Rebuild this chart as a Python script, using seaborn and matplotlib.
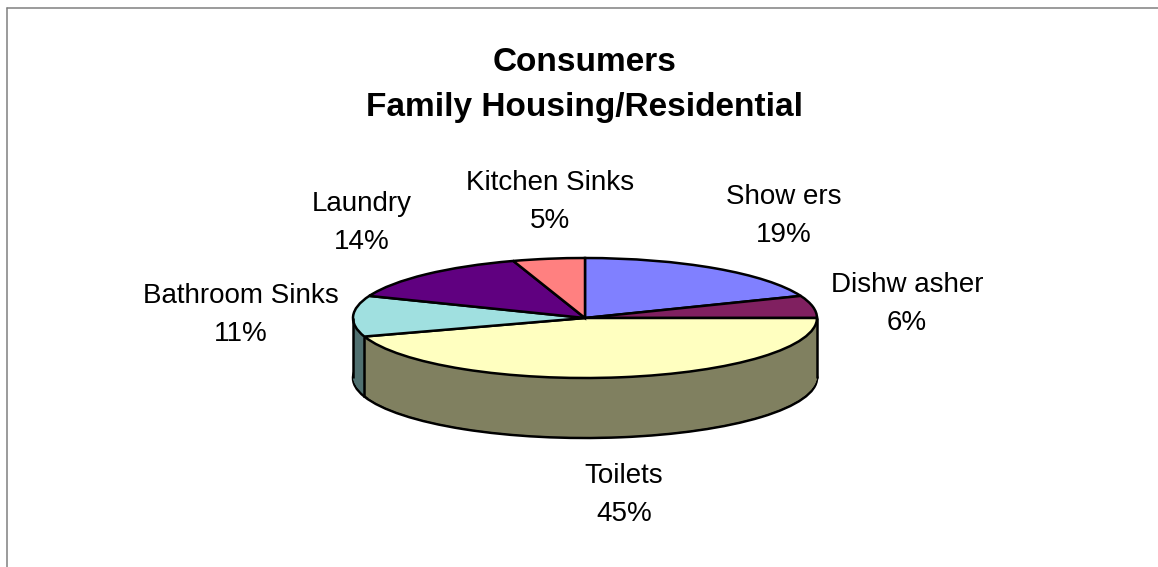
import numpy as np
import matplotlib
matplotlib.use("Agg")
import matplotlib.pyplot as plt
from matplotlib.lines import Line2D
import seaborn as sns

W, H = 1158, 567

categories = ["Show ers", "Dishw asher", "Toilets", "Bathroom Sinks", "Laundry", "Kitchen Sinks"]
shares = [19, 6, 45, 11, 14, 5]
slice_colors = ["#8080FF", "#802060", "#FFFFC0", "#A0E0E0", "#600080", "#FF8080"]
title_lines = "Consumers\nFamily Housing/Residential"

# label centres in pixels, same order as categories
label_pos = [(784, 216), (907, 304), (624, 495), (241, 315), (362, 223), (550, 202)]

sns.set_theme(style="white")
plt.rcParams["font.family"] = ["Liberation Sans", "DejaVu Sans"]

# pie centre and ellipse radii in pixels
cx, cy, rx, ry = 585, 318, 232, 60

top = sns.color_palette(slice_colors)
side = [tuple(np.array(c) * 0.5) for c in top]

fig = plt.figure(figsize=(W / 100, H / 100), dpi=100, facecolor="white")
ax = fig.add_axes([0, 0, 1, 1])

# wall of the disc: outlined bottom rim, then layers stacked upward over its spokes
ax.pie(shares, colors=side, startangle=90, counterclock=False, center=(0, -1),
       wedgeprops=dict(edgecolor="black", linewidth=1.8))
for off in np.linspace(0.97, 0, 120):
    ax.pie(shares, colors=side, startangle=90, counterclock=False, center=(0, -off),
           wedgeprops=dict(linewidth=0))

# vertical edges: both sides of the disc and the toilets/bathroom seam
frac = np.cumsum(shares) / np.sum(shares)
seam = 2 * np.pi * frac[categories.index("Toilets")]
for x0, y0 in [(1, 0), (-1, 0), (np.sin(seam), np.cos(seam))]:
    ax.plot([x0, x0], [y0, y0 - 1], color="black", lw=1.8, solid_capstyle="butt")

# top face
ax.pie(shares, colors=top, startangle=90, counterclock=False, center=(0, 0),
       wedgeprops=dict(edgecolor="black", linewidth=1.8))

ax.set_aspect("auto")
ax.set_xlim(-cx / rx, (W - cx) / rx)
ax.set_ylim((cy - H) / ry, cy / ry)
ax.set_axis_off()

# chart frame, only top and left show
frame = "#808080"
fig.add_artist(Line2D([7 / W, 1], [1 - 8 / H, 1 - 8 / H], color=frame, lw=1.1))
fig.add_artist(Line2D([7 / W, 7 / W], [0, 1 - 8 / H], color=frame, lw=1.1))

for name, share, (px, py) in zip(categories, shares, label_pos):
    fig.text(px / W, 1 - py / H, f"{name}\n{share}%", ha="center", va="center",
             fontsize=20, color="black", linespacing=1.6)

fig.text(585 / W, 1 - 85 / H, title_lines, ha="center", va="center",
         fontsize=24, fontweight="bold", color="black", linespacing=1.56)

fig.savefig("out.png", dpi=100)
